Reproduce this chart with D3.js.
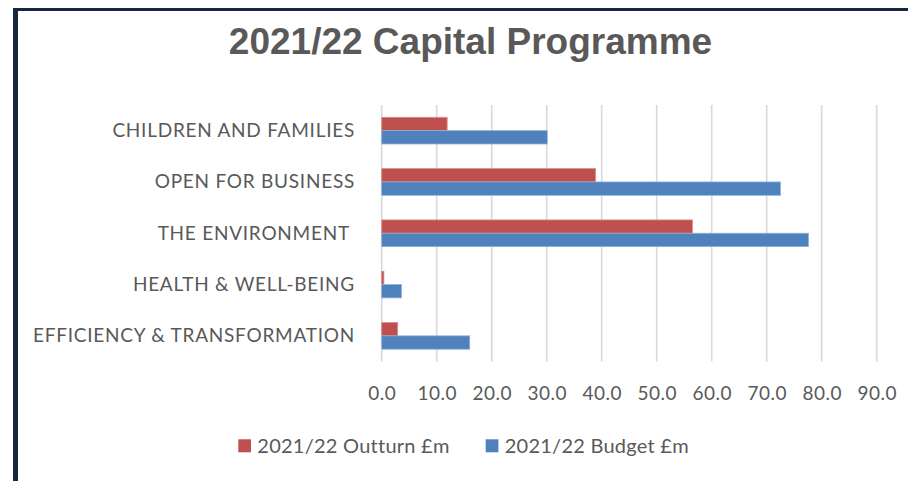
<!DOCTYPE html>
<html><head><meta charset="utf-8">
<script src="https://cdn.jsdelivr.net/npm/d3@7"></script>
<style>html,body{margin:0;padding:0;background:#fff;}svg{display:block;}</style>
</head><body>
<script>
const categories = ["CHILDREN AND FAMILIES", "OPEN FOR BUSINESS", "THE ENVIRONMENT ", "HEALTH & WELL-BEING", "EFFICIENCY & TRANSFORMATION"];
const outturn = [11.9, 38.9, 56.5, 0.4, 2.9];
const budget = [30.1, 72.5, 77.6, 3.6, 16.0];
const seriesNames = ["2021/22 Outturn £m", "2021/22 Budget £m"];
const seriesColors = ["#C0504D", "#4F81BD"];
const xTicks = [0, 10, 20, 30, 40, 50, 60, 70, 80, 90];
const title = "2021/22 Capital Programme";

const W = 908, H = 481;
const svg = d3.select("body").append("svg").attr("width", W).attr("height", H);
svg.append("rect").attr("width", W).attr("height", H).attr("fill", "#fff");

// frame
svg.append("rect").attr("x", 13).attr("y", 8).attr("width", W - 13).attr("height", 3).attr("fill", "#14273f");
svg.append("rect").attr("x", 13).attr("y", 8).attr("width", 5).attr("height", H - 8).attr("fill", "#14273f");

svg.append("text").attr("x", 470.5).attr("y", 53.5).attr("text-anchor", "middle")
  .attr("font-family", "'Liberation Sans', Arial, sans-serif").attr("font-weight", "bold")
  .attr("font-size", 37).attr("fill", "#595959").text(title);

const x = d3.scaleLinear().domain([0, 90]).range([381.7, 876.7]);
const y = d3.scaleBand().domain(categories).range([105, 361.5]).paddingInner(0.48).paddingOuter(0.24);
const ys = d3.scaleBand().domain([0, 1]).range([0, y.bandwidth()]);

// gridlines
svg.append("g").selectAll("line").data(xTicks).join("line")
  .attr("x1", d => x(d)).attr("x2", d => x(d)).attr("y1", 105).attr("y2", 361.5)
  .attr("stroke", "#d9d9d9").attr("stroke-width", 1.6);

const data = categories.map((c, i) => ({c, vals: [outturn[i], budget[i]]}));
const g = svg.append("g");
data.forEach(d => {
  d.vals.forEach((v, s) => {
    g.append("rect").attr("x", x(0)).attr("y", y(d.c) + ys(s))
      .attr("width", x(v) - x(0)).attr("height", ys.bandwidth())
      .attr("fill", seriesColors[s]).attr("stroke", s === 0 ? "#d4908e" : "#8fb0d8").attr("stroke-width", 0.8);
  });
});

const FONT = "Lato, 'Open Sans', sans-serif";
// category labels
svg.append("g").selectAll("text").data(categories).join("text")
  .attr("x", 355).attr("y", d => y(d) + y.bandwidth() / 2 + 6.5)
  .attr("text-anchor", "end").style("white-space", "pre").style("letter-spacing", "0.75px")
  .attr("font-family", FONT).attr("font-size", 19).attr("fill", "#595959")
  .text(d => d);

// x axis labels
const xa = svg.append("g").attr("transform", "translate(0,400)")
  .call(d3.axisBottom(x).tickValues(xTicks).tickSize(0).tickPadding(0).tickFormat(d3.format(".1f")));
xa.select(".domain").remove();
xa.selectAll("text").attr("dy", 0).attr("font-family", FONT).attr("font-size", 19)
  .style("letter-spacing", "0.5px").attr("fill", "#595959");

// legend
const lx = [238.3, 485.7];
const lg = svg.append("g");
seriesNames.forEach((n, i) => {
  lg.append("rect").attr("x", lx[i]).attr("y", 439.3).attr("width", 12.7).attr("height", 13).attr("fill", seriesColors[i]);
  lg.append("text").attr("x", lx[i] + 19).attr("y", 453.3).style("letter-spacing", "0.25px")
    .attr("font-family", FONT).attr("font-size", 20).attr("fill", "#595959").text(n);
});
</script>
</body></html>
